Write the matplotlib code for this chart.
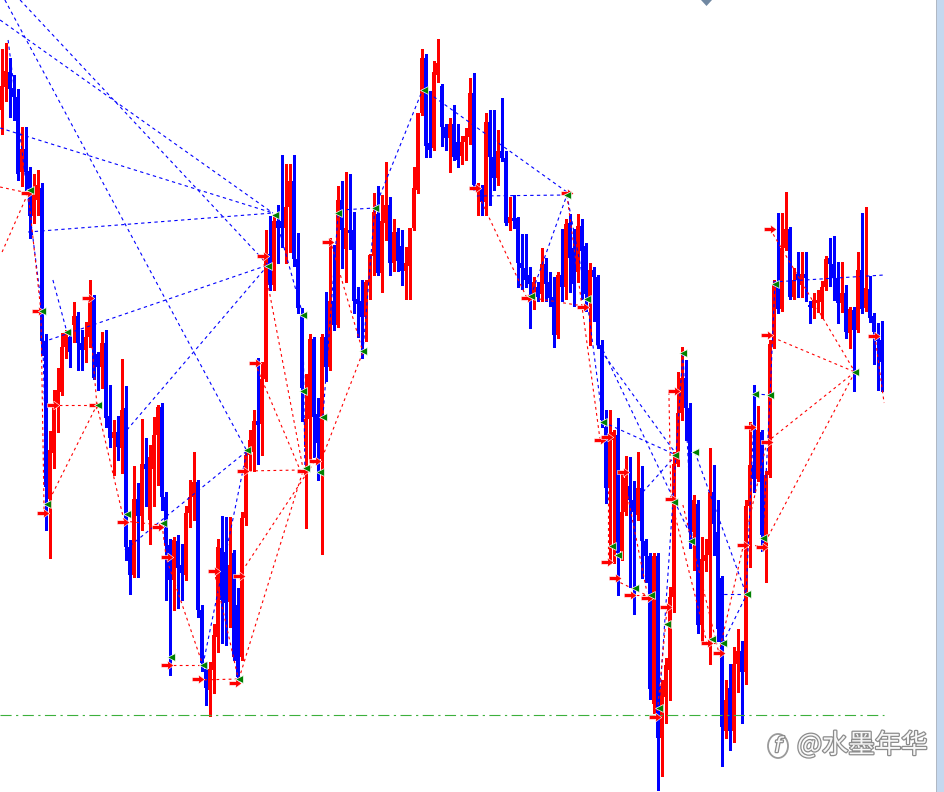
import numpy as np
import matplotlib
matplotlib.use("Agg")
import matplotlib.pyplot as plt
from matplotlib.path import Path
from matplotlib.patches import Rectangle, Polygon, Ellipse
from matplotlib.collections import LineCollection
import matplotlib.patheffects as pe

# candles (price units), one entry per bar
opens = [690,713,728,712,703,628,651,629,584,600,
         612,459,301,347,397,408,453,463,475,484,
         457,450,463,503,446,433,457,384,362,368,
         352,392,253,225,301,284,336,280,331,365,
         393,303,255,220,259,235,225,287,303,318,
         190,131,110,130,163,252,248,198,247,195,
         143,282,345,348,379,376,421,546,515,579,
         579,572,593,619,541,485,353,381,461,386,
         341,463,433,499,475,600,551,570,570,501,
         499,483,516,544,586,527,577,595,537,568,
         554,529,534,572,610,687,742,657,652,725,
         714,673,662,676,658,644,658,663,707,610,
         612,598,678,643,622,649,642,577,582,582,
         537,532,525,506,513,506,536,518,503,465,
         525,513,577,552,528,574,554,499,530,523,
         455,373,312,360,365,249,288,314,300,285,
         312,259,244,96,244,62,103,130,203,336,
         387,422,392,268,296,175,239,245,308,268,
         222,69,112,69,136,149,128,294,335,321,
         368,251,325,456,515,491,552,571,503,526,
         515,526,495,492,497,498,513,542,536,522,
         497,507,467,490,470,530,492,511,484,466,
         460]
highs = [751,757,742,725,711,673,673,633,626,630,
         617,466,369,410,432,467,470,470,498,488,
         470,478,520,505,448,468,470,415,380,384,
         441,414,260,334,317,381,362,355,383,395,
         397,308,261,263,265,256,294,320,348,320,
         195,138,138,176,261,284,283,283,250,212,
         288,350,370,390,442,438,570,584,586,595,
         645,636,636,645,567,492,426,466,463,402,
         466,508,562,555,614,619,628,626,588,513,
         520,520,546,607,614,605,638,603,581,572,
         570,553,572,633,687,751,746,709,739,761,
         716,676,682,695,676,664,672,722,727,617,
         615,687,690,690,670,702,649,603,605,583,
         566,566,533,523,518,552,542,528,523,528,
         571,581,586,571,586,581,557,537,533,525,
         460,390,390,370,382,329,344,343,319,348,
         334,261,247,247,247,120,142,213,348,428,
         453,440,397,305,300,263,261,352,335,300,
         224,120,136,153,171,159,300,378,415,394,
         370,329,460,520,587,587,608,573,532,548,
         548,548,499,507,510,519,544,562,564,538,
         538,515,493,493,548,587,593,524,487,477,
         479]
lows = [666,699,683,680,620,614,610,562,577,585,
        445,270,242,332,368,405,442,433,458,430,
        430,438,453,421,410,412,373,353,325,340,
        327,240,206,223,223,270,294,256,294,315,
        290,200,125,190,192,200,220,273,280,183,
        129,95,84,107,148,157,155,173,140,117,
        140,275,330,329,336,345,419,510,510,537,
        553,537,548,534,487,379,272,341,343,320,
        246,419,430,470,473,532,518,551,487,463,
        442,459,501,525,525,508,560,525,529,529,
        515,501,501,570,607,685,643,643,650,718,
        654,650,628,640,633,636,640,656,610,585,
        585,585,595,610,615,639,575,570,572,513,
        511,513,472,491,499,499,499,494,453,462,
        499,501,508,494,518,501,489,455,479,452,
        373,297,239,237,205,240,285,213,186,280,
        222,218,101,87,10,24,77,100,188,334,
        380,360,252,230,167,159,229,136,245,159,
        34,62,50,58,108,77,116,233,308,319,
        249,218,323,452,487,489,550,501,501,503,
        503,499,477,482,488,482,510,514,500,477,
        488,462,452,409,468,487,489,478,436,410,
        409]
closes = [714,729,711,703,626,651,628,584,605,615,
          459,313,350,395,410,453,467,448,484,457,
          450,463,503,422,433,457,382,362,368,353,
          390,253,225,301,284,336,331,343,365,393,
          303,255,220,260,232,227,287,303,318,190,
          137,112,131,165,253,200,197,235,143,123,
          282,345,360,379,375,421,544,515,579,572,
          572,593,619,541,492,412,381,461,383,357,
          463,433,499,475,600,570,572,567,499,496,
          483,518,545,588,527,579,595,537,568,539,
          529,537,572,612,687,742,654,650,728,737,
          673,662,676,643,640,658,664,707,615,615,
          598,678,643,622,649,642,577,583,579,537,
          532,520,516,518,503,536,516,502,465,525,
          513,576,542,516,574,549,506,530,523,455,
          380,312,363,368,247,288,322,300,288,312,
          259,244,111,244,62,111,135,203,336,387,
          422,392,271,300,175,241,245,308,276,171,
          73,100,69,136,149,128,294,335,321,370,
          265,325,456,515,491,552,571,503,520,520,
          526,522,493,500,500,513,541,536,522,497,
          507,468,491,470,530,491,512,482,468,459,
          438]

# indicator markers (bar index, price)
green_x = [7.1,10.1,16.3,24.1,11.3,31.3,40.3,61.3,42.3,50.3,59.3,76.1,79.6,68.3,66.6,
           75.3,75.3,80.3,84.1,93.3,90.3,105.6,132.3,141.3,146.3,150.3,152.6,154.1,158.3,
           162.3,166.3,164.3,170.3,168.3,173.3,172.3,168.1,188.3,192.1,190.3,177.6,180.3,
           186.3,193.3,213.3]
green_y = [610,489,468,395,296,286,277,350,143,135,121,332,328,585,534,
           485,409,383,587,592,449,710,504,605,501,378,254,245,212,
           205,176,92,447,345,348,259,298,406,405,262,161,157,
           206,516,428]
red_x = [6.3,9.1,12.8,23.3,21.6,10.3,30.3,39.1,41.3,41.3,49.1,53.1,59.3,58.3,60.3,
         75.3,78.3,65.3,63.3,81.6,118.3,141.3,131.3,145.3,149.6,151.3,151.3,153.3,155.3,
         168.1,167.3,163.3,157.1,161.3,166.1,176.3,179.3,185.3,190.1,187.1,191.3,192.1,
         218.1,191.3]
red_y = [607,489,395,395,502,287,278,273,243,135,121,229,224,117,329,
         329,339,544,437,558,612,607,502,493,360,363,238,222,328,
         409,301,83,205,202,193,157,147,255,253,373,465,571,
         464,358]

# indicator lines (x0, y0, x1, y1) in bar index / price
blue_seg = [(0.8,800,61.3,349),(-0.4,780,67.8,587),(4.6,800,66.6,535),(-0.4,672,67.8,587),
            (6.6,568,67.8,587),(10.3,458,66.6,535),(31.3,370,66.6,535),(30.8,250,61.3,349),
            (50.3,135,61.3,349),(1.6,760,10.1,489),(10.1,489,11.3,296),(12.8,520,16.3,468),
            (68.3,585,75.3,485),(75.3,485,75.8,330),(80.3,383,84.1,586),(84.6,590,93.3,592),
            (90.3,448,93.3,592),(93.3,592,105.3,711),(105.3,711,141.3,608),(118.8,604,141.3,605),
            (132.3,504,141.3,605),(141.3,605,146.3,501),(146.3,501,150.3,378),(148.8,455,168.8,345),
            (150.3,450,172.8,260),(150.3,378,168.6,345),(160.3,308,168.6,345),(170.3,447,172.6,260),
            (164.3,91,170.3,448),(173.3,348,186.1,206),(178.8,206,186.3,206),(180.3,157,186.3,206),
            (188.3,406,192.1,405),(190.3,262,192.1,405),(188.3,405,186.1,206),(192.8,518,220.6,525),
            (193.3,516,192.1,405)]
red_seg = [(-0.4,613,6.6,607),(0.1,548,6.6,607),(6.6,607,9.8,489),(9.8,489,10.6,288),
           (11.3,295,23.8,395),(12.8,395,23.8,395),(21.6,502,23.8,395),(23.8,395,30.6,279),
           (30.6,279,39.6,275),(40.1,275,41.1,243),(41.3,240,50.1,137),(41.3,135,50.3,135),
           (49.1,120,59.3,121),(53.1,229,59.1,122),(59.3,121,75.3,329),(60.3,329,75.3,330),
           (59.3,224,78.3,339),(65.3,542,75.3,332),(63.3,437,74.6,330),(80.1,342,90.3,448),
           (82.1,560,90.3,448),(118.6,610,131.3,502),(131.3,503,145.3,494),(141.3,605,149.6,360),
           (151.6,358,151.6,240),(153.3,220,162.1,203),(155.3,328,161.3,208),(167.3,301,176.3,157),
           (176.3,157,180.3,157),(179.3,147,191.3,358),(185.3,255,190.3,254),(191.3,465,213.3,428),
           (192.1,571,213.3,428),(213.3,428,190.1,252),(213.3,428,191.3,358),(218.3,464,220.6,397),
           (163.8,83,166.3,190),(157.1,205,162.3,205),(166.8,408,167.3,301),(170.3,295,179.3,147)]
level_price = 85
level_end = 220.6

W, H = 944, 792
fig = plt.figure(figsize=(W/100, H/100), dpi=100)
fig.patch.set_facecolor("white")
ax = fig.add_axes([0, 0, 1, 1])
ax.set_xlim(-0.425, 235.575); ax.set_ylim(8, 800); ax.axis("off")

o = np.array(opens); h = np.array(highs); l = np.array(lows); c = np.array(closes)
idx = np.arange(len(o))
col = np.where(c >= o, "#ff0000", "#0000ff")
ax.vlines(idx, l, h, colors=col, lw=0.8, zorder=2, antialiased=False)
ax.bar(idx, np.maximum(np.abs(c - o), 1.3), bottom=np.minimum(o, c), width=0.78,
       color=col, lw=0, zorder=2, antialiased=False)

ax.add_collection(LineCollection([[(a, b), (x, y)] for a, b, x, y in blue_seg],
                                 colors="#0000ff", linewidths=0.8, linestyles=[(0, (3, 3))], zorder=3))
ax.add_collection(LineCollection([[(a, b), (x, y)] for a, b, x, y in red_seg],
                                 colors="#ff0000", linewidths=0.8, linestyles=[(0, (2.5, 3))], zorder=3))
ax.plot([-0.4, level_end], [level_price, level_price], color="#3cb03c", lw=0.8,
        ls=(0, (10, 4, 2, 4)), zorder=3)

arrow = Path([(-1, -0.3), (0.05, -0.3), (0.05, -0.7), (1, 0), (0.05, 0.7), (0.05, 0.3), (-1, 0.3), (-1, -0.3)],
             [Path.MOVETO] + [Path.LINETO] * 6 + [Path.CLOSEPOLY])
ax.plot(red_x, red_y, ls="none", marker=arrow, ms=9, mfc="#ff0000", mec="white", mew=0.4, zorder=5)
ax.plot(green_x, green_y, ls="none", marker="<", ms=6, mfc="#008000", mec="white", mew=0.5, zorder=5)

# chart frame decorations
fig.add_artist(Rectangle((937/W, 0), 7/W, 1, transform=fig.transFigure, fc="#c4d8ef", ec="none"))
fig.add_artist(Rectangle((936/W, 0), 1/W, 1, transform=fig.transFigure, fc="#b0b8c4", ec="none"))
fig.add_artist(Polygon([[701/W, 1], [712/W, 1], [706.5/W, 1 - 6/H]], closed=True,
                       transform=fig.transFigure, fc="#7088a2", ec="none"))

# watermark
stroke = [pe.withStroke(linewidth=1.8, foreground="#8c8c8c")]
fig.text(797/W, 1 - 745/H, "@水墨年华", fontsize=19, color="#f7f7f7", va="center", ha="left",
         family=["Noto Sans CJK SC", "DejaVu Sans"], path_effects=stroke)
fig.add_artist(Ellipse((778/W, 1 - 746/H), 20/W, 24/H, transform=fig.transFigure,
                       fc="none", ec="#9a9a9a", lw=1.3))
fig.text(778/W, 1 - 746/H, "f", fontsize=15, style="italic", color="#f7f7f7", ha="center",
         va="center", path_effects=stroke)

fig.savefig("out.png", dpi=100, facecolor="white")
